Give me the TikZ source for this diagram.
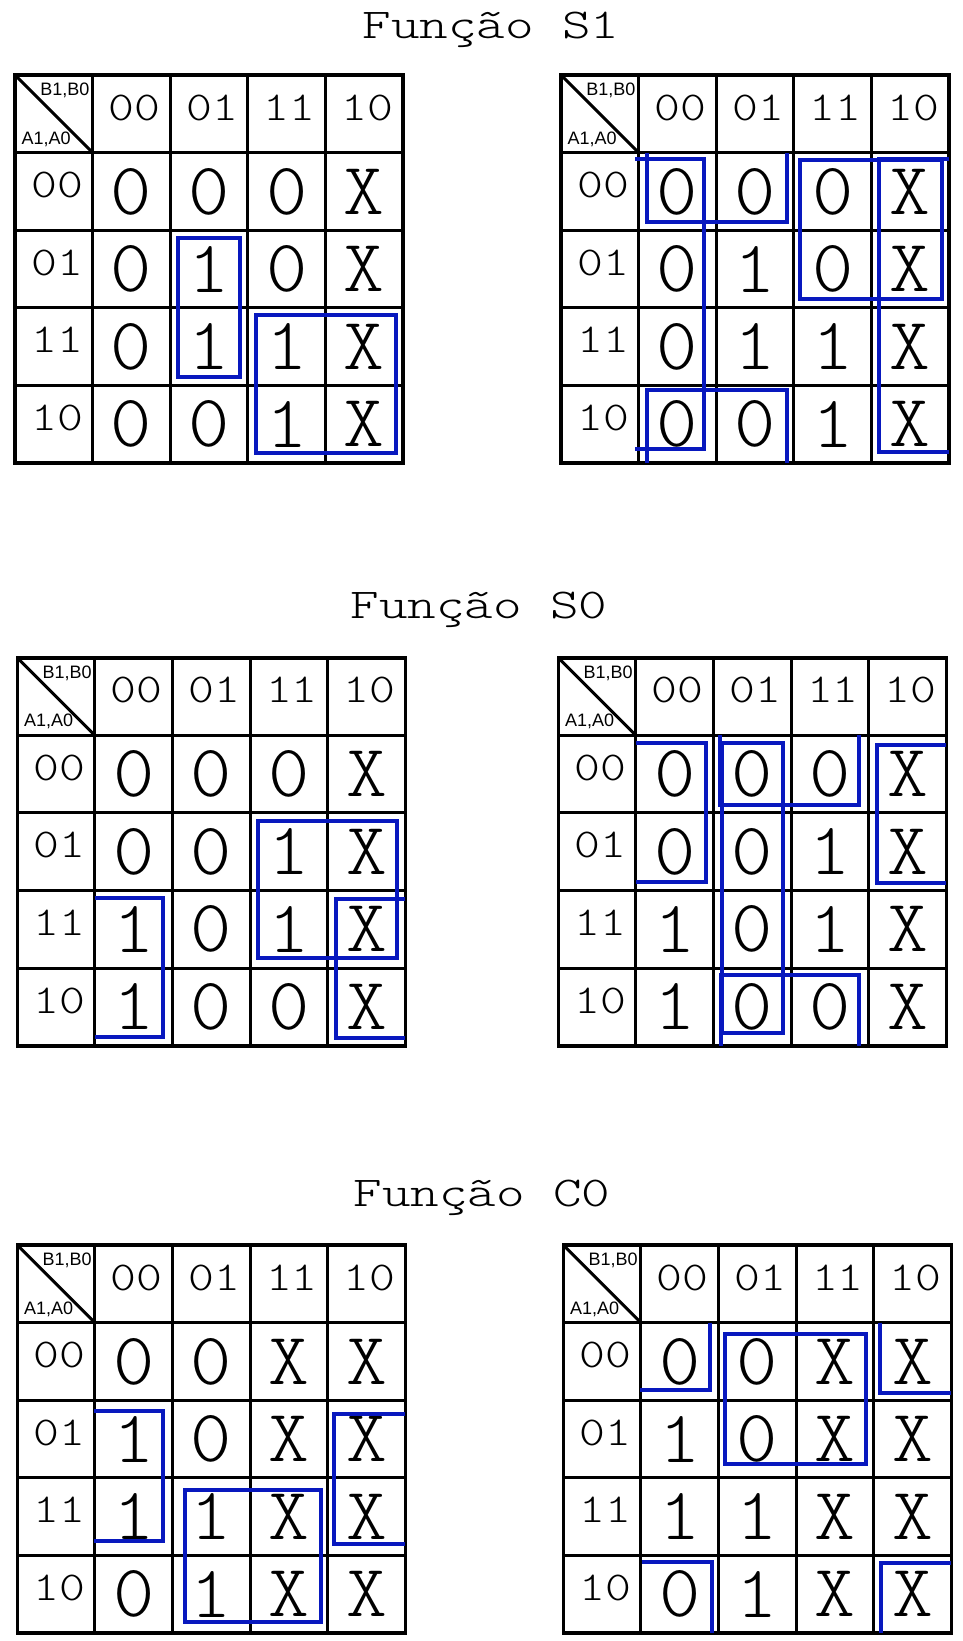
\documentclass[tikz,border=0pt]{standalone}
\usepackage{fontspec}
\usepackage{graphicx}
\newfontfamily\cornerfont{Liberation Sans}
\newfontfamily\kmono{lmmonolt10-regular.otf}
\definecolor{kblue}{RGB}{8,24,190}
\tikzset{
  gridln/.style={line width=3pt, draw=black},
  outerln/.style={line width=3.6pt, draw=black},
  loopln/.style={line width=4pt, draw=kblue, line cap=butt, line join=miter},
  ctxt/.style={inner sep=0pt, font=\cornerfont\fontsize{18}{18}\selectfont},
  hdr/.style={inner sep=0pt, font=\kmono\fontsize{41}{41}\selectfont},
  big/.style={inner sep=0pt, font=\kmono\fontsize{74}{74}\selectfont},
  ttl/.style={inner sep=0pt, font=\kmono\fontsize{42.5}{42.5}\selectfont, anchor=base},
}
\newcommand\hs[1]{\scalebox{1.2}[1]{#1}}
\newcommand\bs[1]{\if X#1\scalebox{1.05}[1]{X}\else\scalebox{1.06}[1]{#1}\fi}
\newcommand\ts[1]{\scalebox{1.28}[1]{#1}}
\newcommand\kmap[7]{%
\begin{scope}[shift={(#2,#3)}]
  \foreach \k in {1,2,3,4} {
    \draw[gridln] ({\k*77.6},0) -- ({\k*77.6},388);
    \draw[gridln] (0,{\k*77.6}) -- (388,{\k*77.6});
  }
  \draw[gridln] (0,0) -- (77.6,77.6);
  \draw[outerln] (0,0) rectangle (388,388);
  \node[ctxt, anchor=north east] (#1bb) at (74.5,8) {B1,B0};
  \node[ctxt, anchor=base west] (#1aa) at (6.5,69) {A1,A0};
  \foreach \lab [count=\j] in {00,01,11,10} {
    \node[hdr] (#1c\j) at ({(\j+0.5)*77.6+3},32.5) {\hs{\lab}};
    \node[hdr] (#1r\j) at (42.5,{(\j+0.5)*77.6-6.4}) {\hs{\lab}};
  }
  \foreach \v [count=\j] in {#4} \node[big] (#1ea\j) at ({(\j+0.5)*77.6},{1.5*77.6}) {\bs{\v}};
  \foreach \v [count=\j] in {#5} \node[big] (#1eb\j) at ({(\j+0.5)*77.6},{2.5*77.6}) {\bs{\v}};
  \foreach \v [count=\j] in {#6} \node[big] (#1ec\j) at ({(\j+0.5)*77.6},{3.5*77.6}) {\bs{\v}};
  \foreach \v [count=\j] in {#7} \node[big] (#1ed\j) at ({(\j+0.5)*77.6},{4.5*77.6}) {\bs{\v}};
\end{scope}}
\begin{document}
\begin{tikzpicture}[x=1pt,y=-1pt]
\useasboundingbox[fill=white] (0,0) rectangle (963,1641);

% titles
\node[ttl] (t1) at (491,38.5) {\ts{Função S1}};
\node[ttl] (t2) at (479,618) {\ts{Função S0}};
\node[ttl] (t3) at (482,1206.5) {\ts{Função C0}};

% maps
\kmap{ma}{15}{75}{0,0,0,X}{0,1,0,X}{0,1,1,X}{0,0,1,X}
\kmap{mb}{561}{75}{0,0,0,X}{0,1,0,X}{0,1,1,X}{0,0,1,X}
\kmap{mc}{17.3}{657.7}{0,0,0,X}{0,0,1,X}{1,0,1,X}{1,0,0,X}
\kmap{md}{558.3}{657.7}{0,0,0,X}{0,0,1,X}{1,0,1,X}{1,0,0,X}
\kmap{me}{17.3}{1245}{0,0,X,X}{1,0,X,X}{1,1,X,X}{0,1,X,X}
\kmap{mf}{563.3}{1245}{0,0,X,X}{1,0,X,X}{1,1,X,X}{0,1,X,X}

% loops map a
\begin{scope}[shift={(15,75)}]
  \draw[loopln] (163.3,163.3) rectangle (225,301.7);
  \draw[loopln] (241,240) rectangle (381,378.3);
\end{scope}

% loops map b
\begin{scope}[shift={(561,75)}]
  \draw[loopln] (74,84.3) -- (143.3,84.3) -- (143.3,374.3) -- (74,374.3);
  \draw[loopln] (388,84.3) -- (318.3,84.3) -- (318.3,376.7) -- (388,376.7);
  \draw[loopln] (239,85) rectangle (380.7,224);
  \draw[loopln] (85.7,77.6) -- (85.7,146.7) -- (226.3,146.7) -- (226.3,77.6);
  \draw[loopln] (85.7,388) -- (85.7,315) -- (226.3,315) -- (226.3,388);
\end{scope}

% loops map c
\begin{scope}[shift={(17.3,657.7)}]
  \draw[loopln] (241,163) rectangle (380,300.7);
  \draw[loopln] (77.6,240.6) -- (146,240.6) -- (146,379) -- (77.6,379);
  \draw[loopln] (388,241.6) -- (318.7,241.6) -- (318.7,380) -- (388,380);
\end{scope}

% loops map d
\begin{scope}[shift={(558.3,657.7)}]
  \draw[loopln] (77.6,85) -- (147.7,85) -- (147.7,224) -- (77.6,224);
  \draw[loopln] (388,87.3) -- (318.4,87.3) -- (318.4,225.6) -- (388,225.6);
  \draw[loopln] (164,85) rectangle (224.4,375.6);
  \draw[loopln] (161.5,77.6) -- (161.5,147.3) -- (301,147.3) -- (301,77.6);
  \draw[loopln] (163,388) -- (163,317.3) -- (301,317.3) -- (301,388);
\end{scope}

% loops map e
\begin{scope}[shift={(17.3,1245)}]
  \draw[loopln] (77,165.7) -- (146,165.7) -- (146,296) -- (77,296);
  \draw[loopln] (388,169) -- (317,169) -- (317,299) -- (388,299);
  \draw[loopln] (167.7,245) rectangle (303.7,376.7);
\end{scope}

% loops map f
\begin{scope}[shift={(563.3,1245)}]
  \draw[loopln] (76.7,145) -- (146.7,145) -- (146.7,77.6);
  \draw[loopln] (316.7,77.6) -- (316.7,147.7) -- (388,147.7);
  \draw[loopln] (78.4,316.7) -- (148.4,316.7) -- (148.4,388);
  \draw[loopln] (317.4,388) -- (317.4,318.3) -- (388,318.3);
  \draw[loopln] (161.7,89) rectangle (302.7,219.3);
\end{scope}
\end{tikzpicture}
\end{document}
